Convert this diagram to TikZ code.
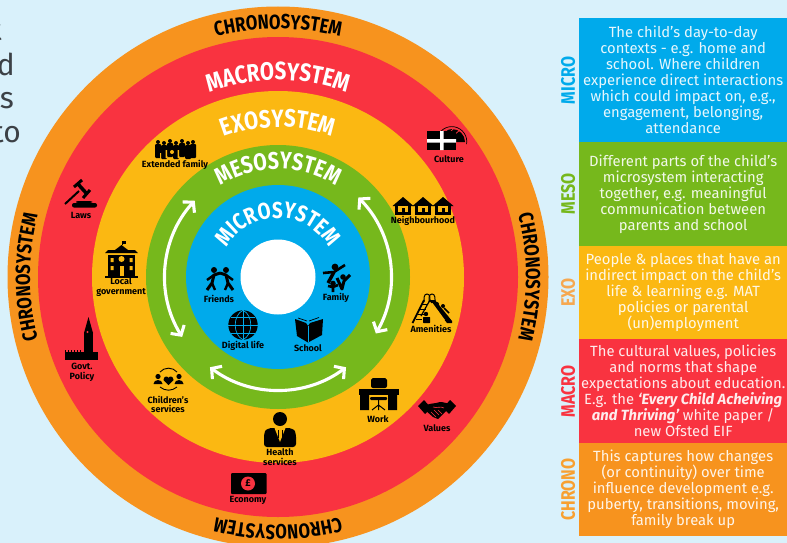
\documentclass[tikz,border=0pt]{standalone}
\usepackage{fontspec}
\usepackage{xcolor}
\usetikzlibrary{arrows.meta,decorations.text}
\setmainfont{Fira Sans}
\newfontfamily\capsfont[FakeStretch=0.82]{Fira Sans Bold}
\definecolor{skybg}{HTML}{D9F1FB}
\definecolor{chronoc}{HTML}{F7931E}
\definecolor{macroc}{HTML}{F93340}
\definecolor{exoc}{HTML}{FBB812}
\definecolor{mesoc}{HTML}{76B81C}
\definecolor{microc}{HTML}{00AAEB}
\definecolor{exotag}{HTML}{F6A850}
\definecolor{chronotag}{HTML}{F8A030}
\definecolor{leftgrey}{HTML}{3C4146}
\tikzset{
  iconlabel/.style={font=\fontsize{9}{9.8}\selectfont\bfseries,text=black,inner sep=0pt,align=center},
  panelbox/.style={anchor=north west,text=white,text opacity=.9,inner sep=0pt,minimum width=208pt,align=center,font=\fontsize{14.8}{16}\selectfont},
  sidetag/.style={rotate=90,inner sep=0pt,font=\fontsize{19.5}{19.5}\capsfont},
  cuttext/.style={anchor=base east,inner sep=0pt,text=leftgrey,font=\fontsize{30}{30}\selectfont},
  ringarrow/.style={white,line width=3.1pt,{Straight Barb[length=7pt,width=16pt]}-{Straight Barb[length=7pt,width=16pt]}},
}
\newcommand{\ringtext}[6]{\path[decorate,decoration={text along path,text align=center,text color=#5,text={|\fontsize{#6}{#6}\capsfont|#4}}](c)++(#2+#3:#1 pt)arc[start angle=#2+#3,end angle=#2-#3,radius=#1 pt];}
\begin{document}
\begin{tikzpicture}[x=1pt,y=-1pt]
\clip(0,0)rectangle(787,543);
\fill[skybg](0,0)rectangle(787,543);
\coordinate(c)at(278,277);
\node[cuttext](lineone)at(2,41){t};
\node[cuttext](linetwo)at(15,75){d};
\node[cuttext](linethree)at(14,108){s};
\node[cuttext](linefour)at(21,142){to};
% rings
\fill[chronoc](c)circle(270.5pt);
\fill[macroc](c)circle(240pt);
\fill[exoc](c)circle(186pt);
\fill[mesoc](c)circle(132pt);
\fill[microc](c)circle(92pt);
\fill[white](c)circle(37.5pt);
\ringtext{248}{90}{40}{CHRONOSYSTEM}{black}{20.4}
\ringtext{248}{180}{40}{CHRONOSYSTEM}{black}{20.4}
\ringtext{248}{0}{40}{CHRONOSYSTEM}{black}{20.4}
\ringtext{248}{-90}{40}{CHRONOSYSTEM}{black}{20.4}
\ringtext{197}{90}{40}{MACROSYSTEM}{white}{25}
\ringtext{150}{90}{50}{EXOSYSTEM}{white}{25}
\ringtext{108}{90}{50}{MESOSYSTEM}{white}{24}
\ringtext{59}{90}{85}{MICROSYSTEM}{white}{23}
\draw[ringarrow](c)++(137.5:113pt)arc[start angle=137.5,end angle=212,radius=113pt];
\draw[ringarrow](c)++(44.7:113pt)arc[start angle=44.7,end angle=-30,radius=113pt];
\draw[ringarrow](c)++(233:113pt)arc[start angle=233,end angle=307,radius=113pt];
% extended family
\foreach \px/\py in {158/146,164/147,170/145,176/147,182/145,188/147,193/146}{
  \fill(\px,\py-4)circle(2pt);
  \fill[rounded corners=1pt](\px-3,\py-2)rectangle(\px+3,\py+12);
}
\fill[exoc](165.5,150)rectangle(167,158)(177.5,150)rectangle(179,158)(160,153)rectangle(161,158);
\fill[exoc](172,152)circle(2pt);
\node[iconlabel](extended)at(175,165){Extended family};
% laws
\draw[line width=2pt](65,204)--(79,191);
\draw[line width=3.5pt](78,184)--(87,194);
\draw[line width=3pt](74,187)--(82,180);
\draw[line width=3pt](83,198)--(90,190);
\fill[rounded corners=2pt](72,207.5)rectangle(97,203)(76,203)rectangle(92,201);
\node[iconlabel](laws)at(81,215){Laws};
% local government
\fill(108,255)rectangle(135,276);
\fill(105,276)rectangle(138,278);
\fill(105,253)--(138,253)--(135,250)--(108,250)--cycle;
\fill(115,250)--(121.5,245)--(128,250)--cycle;
\draw[line width=.8pt](122,245)--(122,242);
\fill(122,241)rectangle(126,243.5);
\fill[exoc](121.5,259)circle(3pt);
\foreach \wx in {110.5,129.5}{\fill[exoc](\wx,258)rectangle(\wx+3,262)(\wx,266)rectangle(\wx+3,270);}
\fill[exoc](119.5,266)rectangle(123.5,276);
\node[iconlabel](localgov)at(121,287){Local\\government};
% govt policy
\fill(65,352)rectangle(98,360);
\foreach \bx in {65,68,71,74,77,80}{\fill(\bx,349.5)rectangle(\bx+1.2,352);}
\fill(84,333)rectangle(93,360);
\fill(84,333)--(88.5,317)--(93,333)--cycle;
\fill[macroc](87.5,332)circle(1.2pt);
\node[iconlabel](govpolicy)at(82,372){Govt.\\Policy};
% children's services
\fill(158,376.5)circle(2.6pt)(179,376.5)circle(2.6pt);
\fill(153.5,384)to[out=90,in=180](158,380)to[out=0,in=90](162.5,384)--cycle;
\fill(174.5,384)to[out=90,in=180](179,380)to[out=0,in=90](183.5,384)--cycle;
\fill(168.5,385)--(163.5,380)to[out=80,in=180](166,376.5)to[out=0,in=100](168.5,378)to[out=80,in=180](171,376.5)to[out=0,in=100](173.5,380)--cycle;
\draw[line width=.9pt](160,372)to[out=50,in=130](177,372);
\draw[line width=.9pt](160,387)to[out=-40,in=220](177,387);
\node[iconlabel](children)at(168,404.5){Children's\\services};
% health services
\fill(280,419)circle(7pt);
\fill[rounded corners=3pt](264,447)--(264,434)to[out=70,in=180](275,428)--(285,428)to[out=0,in=110](296,434)--(296,447)--cycle;
\fill[exoc](274.5,428)--(280,442)--(285.5,428)--cycle;
\draw[line width=1pt](278,430)--(278,438)(282,430)--(282,438);
\fill(280,444)circle(1.5pt);
\node[iconlabel](health)at(280,457){Health\\services};
% economy
\fill[rounded corners=1pt](231,473)rectangle(266.5,494);
\fill[macroc](248,483.5)circle(7pt);
\node[font=\fontsize{10}{10}\selectfont\bfseries,inner sep=0pt](pound)at(248,483.5){£};
\node[iconlabel](economy)at(248,500){Economy};
% work
\fill[rounded corners=2pt](371,388)--(371,382)to[out=90,in=180](375,378)--(383,378)to[out=0,in=90](387,382)--(387,388)--cycle;
\fill(359,389)rectangle(398.5,395);
\fill(360,395)rectangle(369,410)(388,395)rectangle(397,410);
\fill[rounded corners=1pt](370,397)rectangle(387,400);
\draw[line width=1pt](378.5,400)--(378.5,405)(372,410)--(378.5,405)--(385,410)(378.5,405)--(378.5,410);
\node[iconlabel](work)at(378,419){Work};
% values
\fill(418,406)--(424,400)--(431,408)--(425,414)--cycle;
\fill(456,406)--(450,400)--(443,408)--(449,414)--cycle;
\fill(426,405)to[out=20,in=190](436,403)to[out=20,in=160](449,404)--(447,410)--(438,419)--(433,417)--(425,410)--cycle;
\draw[macroc,line width=.6pt](433,407)to[out=-20,in=150](444,408)(431,412)--(436,417)(434,410)--(439,415)(438,410)--(442,414);
\node[iconlabel](values)at(437,428){Values};
% amenities
\draw[line width=1pt](424,302)to[out=90,in=180](427,294)to[out=0,in=90](430,302);
\draw[line width=1pt](429,302)to[out=90,in=180](432,294)to[out=0,in=90](435,302);
\draw[line width=1.8pt](424,300)--(412.5,323);
\draw[line width=1.2pt](430,300)--(421,316);
\foreach \ry in {304,309,314,319}{\draw[line width=.9pt](\ry/-2.3+554.3,\ry)--++(6,0);}
\fill(429,300)--(435,300)--(452,321)--(452,323)--(447,323)--cycle;
\fill[exoc](431,303)--(432.5,303)--(445,320)--(443,320)--cycle;
\fill(437,304)circle(2pt)(443,306)circle(2pt);
\draw[line width=1.6pt](438,307)--(444,315)(444,308)--(449,313);
\fill(426,314)circle(2.2pt);
\fill[rounded corners=.5pt](423,317)rectangle(430,323);
\node[iconlabel](amenities)at(431,328.5){Amenities};
% neighbourhood
\foreach \hx in {403,423,443}{
  \fill(\hx-10.5,206)--(\hx,197)--(\hx+10.5,206)--cycle;
  \fill(\hx-8,204)rectangle(\hx+8,215);
  \fill[exoc](\hx-5,206)rectangle(\hx+5,212);
  \fill(\hx-1.5,208)rectangle(\hx+1.5,215);
}
\node[iconlabel](neighbourhood)at(423,221){Neighbourhood};
% culture
\fill(439,142)arc[start angle=180,end angle=0,radius=13pt]--cycle;
\draw[line width=.7pt](437,139)arc[start angle=170,end angle=-10,radius=15pt];
\draw[macroc,line width=.7pt](448,129)--(443,134)(454,128)--(448,134)(460,130)--(454,135);
\fill(427,131)rectangle(456,150);
\fill[white](440,131)rectangle(443.5,150)(427,139)rectangle(456,142.5);
\node[iconlabel](culture)at(449,159){Culture};
% friends
\fill(214,270)circle(3pt)(226,270)circle(3pt);
\draw[line width=3pt,line join=round](220,273)--(214,275)--(212,283)--(207,290);
\draw[line width=3pt,line join=round](220,273)--(226,275)--(228,283)--(233,290);
\draw[line width=2.4pt,line join=round](212,283)--(215,290)(228,283)--(225,290)(214,275)--(207,280)(226,275)--(233,280);
\node[iconlabel](friends)at(219,299){Friends};
% family
\fill(335,267)circle(3.4pt)(333,283.5)circle(2.8pt)(343,277)circle(2.8pt);
\draw[line width=2.6pt,line join=round](323,273)--(334,272)--(345,265);
\draw[line width=3.4pt](334,272)--(328,283);
\draw[line width=2.6pt,line join=round](333,286)--(333,292)(328,286)--(333,287)--(338,285);
\draw[line width=3pt,line join=round](337,278)--(342,289)--(344,281)--(350,275);
\node[iconlabel](family)at(336,298){Family};
% digital life
\fill(243,325)circle(14.7pt);
\draw[microc,line width=.7pt](243,310.3)--(243,339.7)(228.3,325)--(257.7,325)(231,317)--(255,317)(231,333)--(255,333);
\draw[microc,line width=.7pt](243,310.3)to[out=205,in=155](243,339.7)(243,310.3)to[out=-25,in=25](243,339.7);
\node[iconlabel](digital)at(243,345.5){Digital life};
% school
\fill(295,319)--(306,323)--(308,326)--(310,323)--(323,319)--(322,335)--(308,342.5)--(297,336)--cycle;
\draw[microc,line width=.6pt](308,326)--(308,342);
\draw[line width=.7pt](298,318)--(307,321)(319,317.5)--(309,321);
\node[iconlabel](school)at(308,348){School};
% panel
\node[panelbox,fill=microc,minimum height=124pt](microbox)at(579,18){The child’s day-to-day\\contexts - e.g. home and\\school. Where children\\experience direct interactions\\which could impact on, e.g.,\\engagement, belonging,\\attendance};
\node[panelbox,fill=mesoc,minimum height=104pt](mesobox)at(579,142){Different parts of the child’s\\microsystem interacting\\together, e.g. meaningful\\communication between\\parents and school};
\node[panelbox,fill=exoc,minimum height=93pt](exobox)at(579,246){People \& places that have an\\indirect impact on the child’s\\life \& learning e.g. MAT\\policies or parental\\(un)employment};
\node[panelbox,fill=macroc,minimum height=104pt](macrobox)at(579,339){The cultural values, policies\\and norms that shape\\expectations about education.\\E.g. the {\bfseries\itshape ‘Every Child Acheiving}\\{\bfseries\itshape and Thriving’} white paper /\\new Ofsted EIF};
\node[panelbox,fill=chronoc,minimum height=93pt](chronobox)at(579,443){This captures how changes\\(or continuity) over time\\influence development e.g.\\puberty, transitions, moving,\\family break up};
\node[sidetag,text=microc](microtag)at(568,80.5){MICRO};
\node[sidetag,text=mesoc](mesotag)at(568,194){MESO};
\node[sidetag,text=exotag](exotag)at(568,292.5){EXO};
\node[sidetag,text=macroc](macrotag)at(568,391.5){MACRO};
\node[sidetag,text=chronotag](chronotag)at(568,489.5){CHRONO};
\end{tikzpicture}
\end{document}
